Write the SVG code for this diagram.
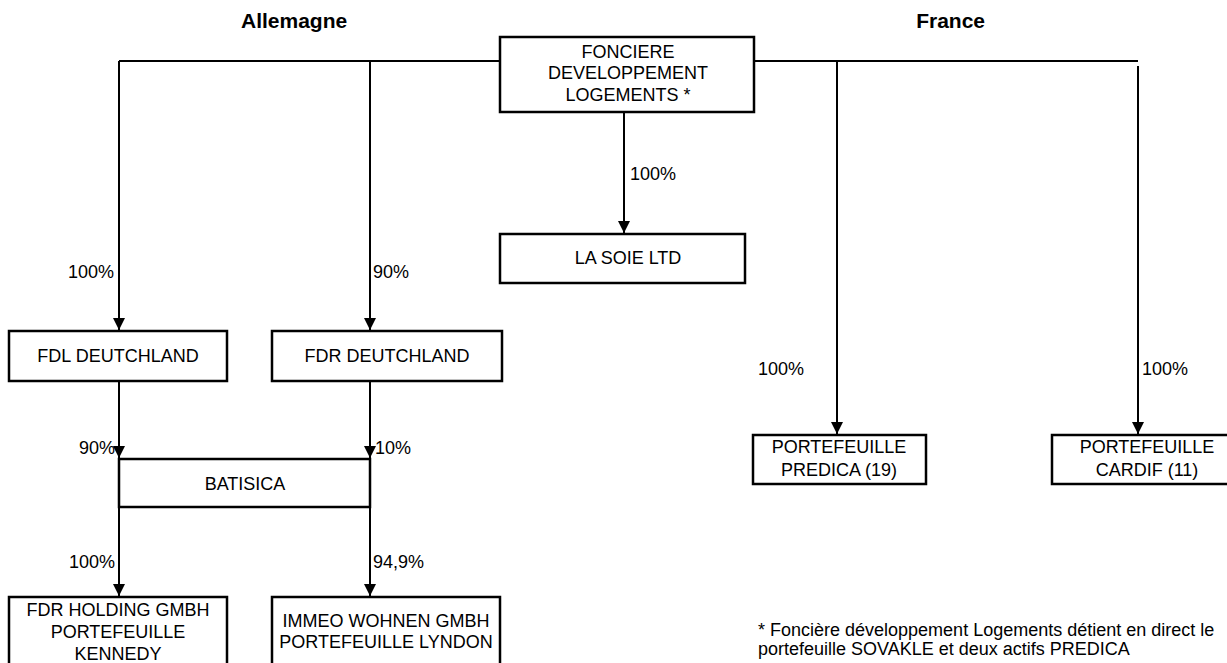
<svg xmlns="http://www.w3.org/2000/svg" width="1227" height="663" viewBox="0 0 1227 663">
<style>
text{font-family:"Liberation Sans",Arial,sans-serif;font-size:18px;fill:#000}
.t{font-weight:bold;font-size:21px}
.c{text-anchor:middle}
.e{text-anchor:end}
.box{fill:#fff;stroke:#000;stroke-width:2.5}
.ln{fill:none;stroke:#000;stroke-width:2}
</style>
<defs>
<marker id="ah" markerUnits="userSpaceOnUse" markerWidth="12" markerHeight="12" viewBox="0 0 12 12" refX="12" refY="6" orient="auto">
<path d="M0,0 L12,6 L0,12 z" fill="#000"/>
</marker>
</defs>
<text class="t" x="241" y="28">Allemagne</text>
<text class="t e" x="985" y="28">France</text>
<g id="connectors">
<path class="ln" d="M119,61 H500 M754,61 H1138"/>
<path class="ln" d="M119,61 V330" marker-end="url(#ah)"/>
<path class="ln" d="M370,61 V330" marker-end="url(#ah)"/>
<path class="ln" d="M837,61 V434" marker-end="url(#ah)"/>
<path class="ln" d="M1138,66 V434" marker-end="url(#ah)"/>
<path class="ln" d="M624,112 V233" marker-end="url(#ah)"/>
<path class="ln" d="M119,381 V458" marker-end="url(#ah)"/>
<path class="ln" d="M370,381 V458" marker-end="url(#ah)"/>
<path class="ln" d="M119,507 V596" marker-end="url(#ah)"/>
<path class="ln" d="M370,507 V596" marker-end="url(#ah)"/>
<text class="e" x="114" y="278">100%</text>
<text x="373" y="278">90%</text>
<text x="630" y="180">100%</text>
<text class="e" x="115" y="454">90%</text>
<text x="375" y="454">10%</text>
<text class="e" x="115" y="568">100%</text>
<text x="373" y="568">94,9%</text>
<text x="758" y="375">100%</text>
<text x="1142" y="375">100%</text>
</g>
<g id="fdl">
<rect class="box" x="500" y="37" width="254" height="75"/>
<text class="c" x="628" y="58">FONCIERE</text>
<text class="c" x="628" y="79">DEVELOPPEMENT</text>
<text class="c" x="628" y="101">LOGEMENTS *</text>
</g>
<g id="lasoie">
<rect class="box" x="500" y="234" width="245" height="49"/>
<text class="c" x="628" y="264">LA SOIE LTD</text>
</g>
<g id="fdl-deutchland">
<rect class="box" x="9" y="331" width="218" height="50"/>
<text class="c" x="118" y="362">FDL DEUTCHLAND</text>
</g>
<g id="fdr-deutchland">
<rect class="box" x="272" y="331" width="230" height="50"/>
<text class="c" x="387" y="362">FDR DEUTCHLAND</text>
</g>
<g id="batisica">
<rect class="box" x="119" y="459" width="251" height="48"/>
<text class="c" x="245" y="490">BATISICA</text>
</g>
<g id="fdr-holding">
<rect class="box" x="9" y="597" width="218" height="80"/>
<text class="c" x="118" y="616">FDR HOLDING GMBH</text>
<text class="c" x="118" y="638">PORTEFEUILLE</text>
<text class="c" x="118" y="660">KENNEDY</text>
</g>
<g id="immeo">
<rect class="box" x="272" y="597" width="228" height="80"/>
<text class="c" x="386" y="627">IMMEO WOHNEN GMBH</text>
<text class="c" x="386" y="648">PORTEFEUILLE LYNDON</text>
</g>
<g id="predica">
<rect class="box" x="753" y="435" width="173" height="49"/>
<text class="c" x="839" y="453">PORTEFEUILLE</text>
<text class="c" x="839" y="476">PREDICA (19)</text>
</g>
<g id="cardif">
<rect class="box" x="1052" y="435" width="200" height="49"/>
<text class="c" x="1147" y="453">PORTEFEUILLE</text>
<text class="c" x="1147" y="476">CARDIF (11)</text>
</g>
<g id="footnote">
<text x="758" y="636">* Foncière développement Logements détient en direct le</text>
<text x="758" y="655">portefeuille SOVAKLE et deux actifs PREDICA</text>
</g>
</svg>
